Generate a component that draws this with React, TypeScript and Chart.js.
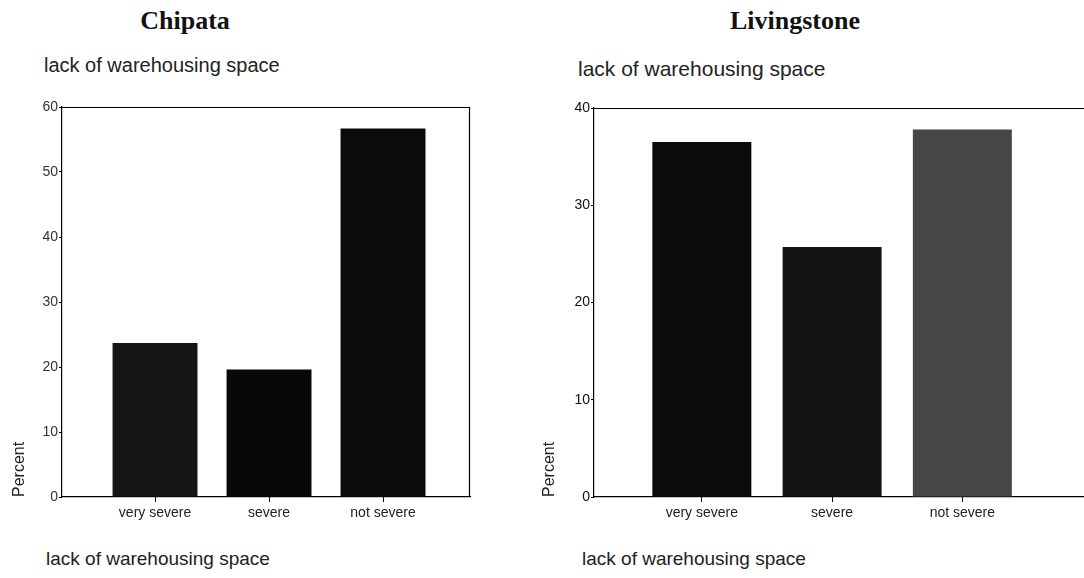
import React, { useEffect, useRef } from "react";
import { Chart, registerables } from "chart.js";

Chart.register(...registerables);

// ---- data ----
const categories = ["very severe", "severe", "not severe"];
const categoryPositions = [1, 2, 3];
const chipataValues = [23.7, 19.6, 56.7];
const livingstoneValues = [36.5, 25.7, 37.8];
const chipataTickValues = [0, 10, 20, 30, 40, 50, 60];
const livingstoneTickValues = [0, 10, 20, 30, 40];
const headingLeft = "Chipata";
const headingRight = "Livingstone";
const subtitleText = "lack of warehousing space";
const xTitleText = "lack of warehousing space";
const yTitleText = "Percent";

// ---- styles ----
const chipataColors = ["#161616", "#080808", "#0b0b0b"];
const livingstoneColors = ["#0b0b0b", "#141414", "#474747"];

const framePlugin = {
  id: "frame",
  afterDraw(chart: any, _args: any, opts: any) {
    const { ctx, chartArea } = chart;
    ctx.save();
    ctx.strokeStyle = "#000";
    ctx.lineWidth = 1.2;
    ctx.beginPath();
    ctx.moveTo(chartArea.left, chartArea.top + 0.5);
    ctx.lineTo(opts.fullRight ? chart.width : chartArea.right, chartArea.top + 0.5);
    if (opts.drawRight) {
      ctx.moveTo(chartArea.right - 0.5, chartArea.top);
      ctx.lineTo(chartArea.right - 0.5, chartArea.bottom);
    }
    ctx.stroke();
    ctx.restore();
  },
};

function makeConfig(
  values: number[],
  colors: string[],
  ticks: number[],
  xMin: number,
  xMax: number,
  barPct: number,
  padding: any,
  titlePad: number,
  frame: any,
  tickColor: string
) {
  const yMax = ticks[ticks.length - 1];
  return {
    type: "bar",
    data: {
      datasets: [
        {
          data: categoryPositions.map((x, i) => ({ x, y: values[i] })),
          backgroundColor: colors,
          borderWidth: 0,
          barPercentage: barPct,
          categoryPercentage: 1,
        },
      ],
    },
    plugins: [framePlugin],
    options: {
      animation: false,
      responsive: false,
      maintainAspectRatio: false,
      layout: { padding },
      plugins: {
        legend: { display: false },
        tooltip: { enabled: false },
        frame,
      },
      scales: {
        x: {
          type: "linear",
          offset: false,
          min: xMin,
          max: xMax,
          afterBuildTicks: (axis: any) => {
            axis.ticks = categoryPositions.map((v) => ({ value: v }));
          },
          afterFit: (axis: any) => {
            axis.height = 33;
          },
          grid: {
            display: true,
            offset: false,
            drawOnChartArea: false,
            drawTicks: true,
            tickLength: 5,
            color: "#000",
          },
          border: { display: true, color: "#000", width: 1.2 },
          ticks: {
            autoSkip: false,
            maxRotation: 0,
            padding: 3,
            color: "#222",
            font: { family: "'Liberation Sans', Arial, sans-serif", size: 14 },
            callback: (v: any) => categories[categoryPositions.indexOf(Number(v))] ?? "",
          },
        },
        y: {
          min: 0,
          max: yMax,
          afterBuildTicks: (axis: any) => {
            axis.ticks = ticks.map((v) => ({ value: v }));
          },
          afterFit: (axis: any) => {
            axis.width = 62;
          },
          grid: {
            display: true,
            drawOnChartArea: false,
            drawTicks: true,
            tickLength: 3,
            color: "#000",
          },
          border: { display: true, color: "#000", width: 1.2 },
          ticks: {
            padding: 1,
            color: tickColor,
            font: { family: "'Liberation Sans', Arial, sans-serif", size: 14 },
          },
          title: {
            display: true,
            text: yTitleText,
            align: "start",
            color: "#222",
            padding: { top: titlePad, bottom: 0 },
            font: { family: "'Liberation Sans', Arial, sans-serif", size: 16 },
          },
        },
      },
    },
  } as any;
}

function BarPanel(props: { left: number; width: number; config: any }) {
  const ref = useRef<HTMLCanvasElement | null>(null);
  useEffect(() => {
    if (!ref.current) return;
    const chart = new Chart(ref.current, props.config);
    return () => chart.destroy();
  }, []);
  return (
    <canvas
      ref={ref}
      width={props.width}
      height={440}
      style={{ position: "absolute", left: props.left, top: 90, width: props.width, height: 440 }}
    />
  );
}

const serifHeading: React.CSSProperties = {
  position: "absolute",
  fontFamily: "'Liberation Serif', 'Times New Roman', serif",
  fontWeight: "bold",
  fontSize: 26,
  color: "#111",
  whiteSpace: "nowrap",
  transform: "translate(-50%, -50%)",
  lineHeight: 1,
};

const sansText: React.CSSProperties = {
  position: "absolute",
  fontFamily: "'Liberation Sans', Arial, sans-serif",
  color: "#222",
  whiteSpace: "nowrap",
  lineHeight: 1,
  transform: "translateY(-50%)",
};

export default function App() {
  useEffect(() => {
    document.body.style.margin = "0";
    document.body.style.background = "#fff";
  }, []);

  const leftConfig = makeConfig(
    chipataValues,
    chipataColors,
    chipataTickValues,
    0.184,
    3.763,
    0.745,
    { top: 17, right: 20, left: 0, bottom: 0 },
    10,
    { drawRight: true, fullRight: false },
    "#333"
  );
  const rightConfig = makeConfig(
    livingstoneValues,
    livingstoneColors,
    livingstoneTickValues,
    0.172,
    3.934,
    0.76,
    { top: 18, right: 0, left: 0, bottom: 0 },
    8,
    { drawRight: false, fullRight: true },
    "#111"
  );

  return (
    <div style={{ position: "relative", width: 1084, height: 578, background: "#fff", overflow: "hidden" }}>
      <div style={{ ...serifHeading, left: 185, top: 21 }}>{headingLeft}</div>
      <div style={{ ...serifHeading, left: 795, top: 21 }}>{headingRight}</div>
      <div style={{ ...sansText, left: 44, top: 65, fontSize: 20 }}>{subtitleText}</div>
      <div style={{ ...sansText, left: 578, top: 68, fontSize: 21 }}>{subtitleText}</div>
      <BarPanel left={0} width={490} config={leftConfig} />
      <BarPanel left={532} width={552} config={rightConfig} />
      <div style={{ ...sansText, left: 46, top: 558, fontSize: 19 }}>{xTitleText}</div>
      <div style={{ ...sansText, left: 582, top: 558, fontSize: 19 }}>{xTitleText}</div>
    </div>
  );
}
